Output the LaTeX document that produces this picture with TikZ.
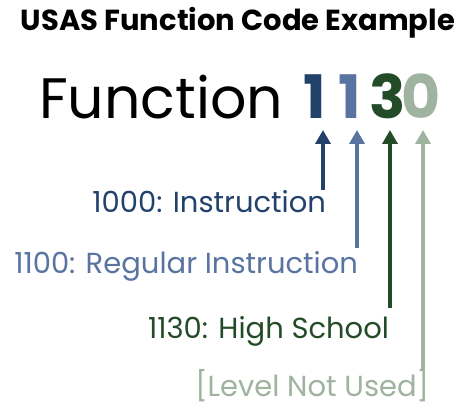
\documentclass[tikz,border=0pt]{standalone}
\usepackage{fontspec}
\setmainfont{Poppins}
\usetikzlibrary{arrows.meta}
\definecolor{cnavy}{HTML}{22416B}
\definecolor{cblue}{HTML}{5A74A2}
\definecolor{cgreen}{HTML}{244B27}
\definecolor{cgray}{HTML}{A0B2A0}
\tikzset{
  txt/.style={inner sep=0pt, outer sep=0pt},
  lbl/.style={txt, anchor=base east, font=\fontsize{29}{31}\selectfont},
  dig/.style={txt, anchor=base, font=\fontsize{60}{62}\selectfont\bfseries},
  arr/.style={line width=4pt, -{Triangle[width=15pt,length=14pt]}, shorten >=-1pt}
}
\begin{document}
\begin{tikzpicture}[x=1pt,y=-1pt]
\useasboundingbox[fill=white] (0,0) rectangle (456,406);
\node[txt, anchor=base, font=\fontsize{29}{31}\selectfont\bfseries] (title) at (238,31) {USAS Function Code Example};
\node[txt, anchor=base west, font=\fontsize{57}{60}\selectfont] (fn) at (39,119) {Function};
\node[dig, text=cnavy] (d1) at (315,119) {1};
\node[dig, text=cblue] (d2) at (350,119) {1};
\node[dig, text=cgreen] (d3) at (388,119) {3};
\node[dig, text=cgray] (d4) at (421,119) {0};
\node[lbl, text=cnavy] (l1) at (326,213) {1000: Instruction};
\node[lbl, text=cblue] (l2) at (358,274) {1100: Regular Instruction};
\node[lbl, text=cgreen] (l3) at (389,339) {1130: High School};
\node[lbl, text=cgray] (l4) at (429,397) {[Level Not Used]};
\coordinate (t1) at (323,190);
\coordinate (h1) at (323,131);
\coordinate (t2) at (357,248);
\coordinate (h2) at (357,131);
\coordinate (t3) at (390,308);
\coordinate (h3) at (390,131);
\coordinate (t4) at (423,369);
\coordinate (h4) at (423,131);
\draw[arr, cnavy] (t1) -- (h1);
\draw[arr, cblue] (t2) -- (h2);
\draw[arr, cgreen] (t3) -- (h3);
\draw[arr, cgray] (t4) -- (h4);
\end{tikzpicture}
\end{document}
